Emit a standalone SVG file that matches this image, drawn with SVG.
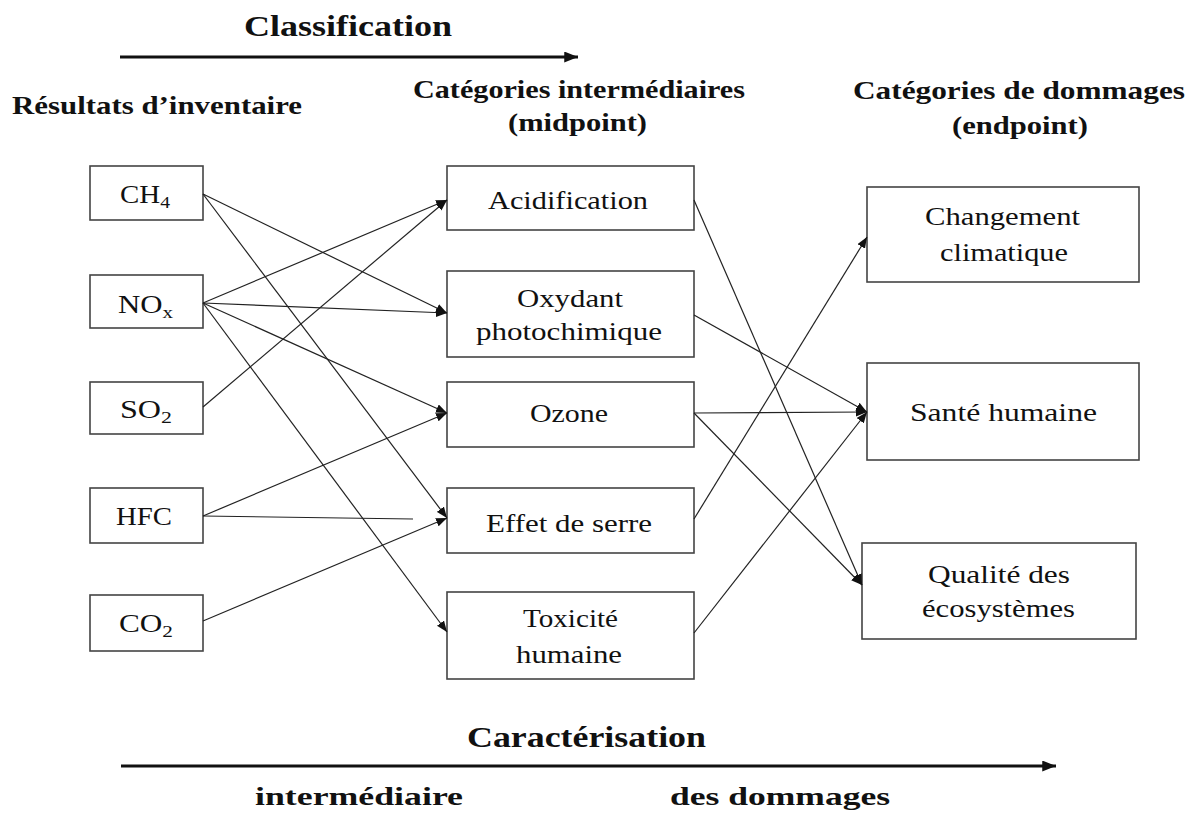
<svg xmlns="http://www.w3.org/2000/svg" width="1195" height="814" viewBox="0 0 1195 814">
<style>
.box{fill:#fff;stroke:#444;stroke-width:1.6}
.lbl{font-family:"Liberation Serif","Times New Roman",serif;font-size:25px;fill:#111}
.hdr{font-family:"Liberation Serif","Times New Roman",serif;font-weight:bold;font-size:26px;fill:#111}
.big{font-family:"Liberation Serif","Times New Roman",serif;font-weight:bold;font-size:30px;fill:#111}
.sub{font-size:17px}
.con{fill:none;stroke:#222;stroke-width:1.2}
.main{fill:none;stroke:#111;stroke-width:3}
</style>
<defs>
<marker id="ah" viewBox="0 0 10 8" refX="10" refY="4" markerWidth="11" markerHeight="9" markerUnits="userSpaceOnUse" orient="auto"><path d="M0,0 L10,4 L0,8 z" fill="#111"/></marker>
<marker id="bh" viewBox="0 0 10 8" refX="10" refY="4" markerWidth="14" markerHeight="11" markerUnits="userSpaceOnUse" orient="auto"><path d="M0,0 L10,4 L0,8 z" fill="#111"/></marker>
</defs>

<g id="headers">
<text class="big" x="244" y="36" textLength="208" lengthAdjust="spacingAndGlyphs">Classification</text>
<line class="main" x1="120" y1="57" x2="578" y2="57" marker-end="url(#bh)"/>
<text class="hdr" x="12" y="114" textLength="290" lengthAdjust="spacingAndGlyphs">Résultats d’inventaire</text>
<text class="hdr" x="413" y="98" textLength="332" lengthAdjust="spacingAndGlyphs">Catégories intermédiaires</text>
<text class="hdr" x="508" y="131" textLength="139" lengthAdjust="spacingAndGlyphs">(midpoint)</text>
<text class="hdr" x="853" y="99" textLength="332" lengthAdjust="spacingAndGlyphs">Catégories de dommages</text>
<text class="hdr" x="952" y="134" textLength="136" lengthAdjust="spacingAndGlyphs">(endpoint)</text>
<text class="big" x="467" y="747" textLength="239" lengthAdjust="spacingAndGlyphs">Caractérisation</text>
<line class="main" x1="121" y1="766" x2="1056" y2="766" stroke-width="2.6" marker-end="url(#bh)"/>
<text class="hdr" x="255" y="805" font-size="27" textLength="208" lengthAdjust="spacingAndGlyphs">intermédiaire</text>
<text class="hdr" x="670" y="805" font-size="27" textLength="220" lengthAdjust="spacingAndGlyphs">des dommages</text>
</g>

<g id="n-ch4"><rect class="box" x="90" y="166" width="113" height="54"/><text class="lbl" x="120" y="203" textLength="50" lengthAdjust="spacingAndGlyphs">CH<tspan class="sub" dy="5">4</tspan></text></g>
<g id="n-nox"><rect class="box" x="90" y="275" width="113" height="53"/><text class="lbl" x="118" y="313" textLength="55" lengthAdjust="spacingAndGlyphs">NO<tspan class="sub" dy="5">x</tspan></text></g>
<g id="n-so2"><rect class="box" x="90" y="382" width="113" height="52"/><text class="lbl" x="120" y="418" textLength="52" lengthAdjust="spacingAndGlyphs">SO<tspan class="sub" dy="5">2</tspan></text></g>
<g id="n-hfc"><rect class="box" x="90" y="488" width="113" height="55"/><text class="lbl" x="116" y="525" textLength="56" lengthAdjust="spacingAndGlyphs">HFC</text></g>
<g id="n-co2"><rect class="box" x="90" y="595" width="113" height="56"/><text class="lbl" x="119" y="632" textLength="54" lengthAdjust="spacingAndGlyphs">CO<tspan class="sub" dy="5">2</tspan></text></g>

<g id="m-acid"><rect class="box" x="447" y="166" width="247" height="64"/><text class="lbl" x="488" y="209" textLength="160" lengthAdjust="spacingAndGlyphs">Acidification</text></g>
<g id="m-oxyd"><rect class="box" x="447" y="271" width="247" height="86"/><text class="lbl" x="517" y="307" textLength="106" lengthAdjust="spacingAndGlyphs">Oxydant</text><text class="lbl" x="476" y="340" textLength="186" lengthAdjust="spacingAndGlyphs">photochimique</text></g>
<g id="m-ozone"><rect class="box" x="447" y="382" width="247" height="65"/><text class="lbl" x="530" y="422" textLength="78" lengthAdjust="spacingAndGlyphs">Ozone</text></g>
<g id="m-effet"><rect class="box" x="447" y="488" width="247" height="65"/><text class="lbl" x="486" y="532" textLength="166" lengthAdjust="spacingAndGlyphs">Effet de serre</text></g>
<g id="m-toxi"><rect class="box" x="447" y="592" width="247" height="87"/><text class="lbl" x="523" y="627" textLength="95" lengthAdjust="spacingAndGlyphs">Toxicité</text><text class="lbl" x="516" y="663" textLength="106" lengthAdjust="spacingAndGlyphs">humaine</text></g>

<g id="e-clim"><rect class="box" x="867" y="187" width="272" height="95"/><text class="lbl" x="925" y="225" textLength="155" lengthAdjust="spacingAndGlyphs">Changement</text><text class="lbl" x="940" y="261" textLength="128" lengthAdjust="spacingAndGlyphs">climatique</text></g>
<g id="e-sante"><rect class="box" x="867" y="363" width="272" height="97"/><text class="lbl" x="910" y="421" textLength="187" lengthAdjust="spacingAndGlyphs">Santé humaine</text></g>
<g id="e-qual"><rect class="box" x="862" y="543" width="274" height="96"/><text class="lbl" x="928" y="583" textLength="142" lengthAdjust="spacingAndGlyphs">Qualité des</text><text class="lbl" x="922" y="617" textLength="153" lengthAdjust="spacingAndGlyphs">écosystèmes</text></g>

<g id="connectors">
<line class="con" x1="203" y1="194" x2="447" y2="313" marker-end="url(#ah)"/>
<line class="con" x1="203" y1="194" x2="447" y2="518" marker-end="url(#ah)"/>
<line class="con" x1="203" y1="303" x2="447" y2="200" marker-end="url(#ah)"/>
<line class="con" x1="203" y1="303" x2="447" y2="313" marker-end="url(#ah)"/>
<line class="con" x1="203" y1="303" x2="447" y2="413" marker-end="url(#ah)"/>
<line class="con" x1="203" y1="303" x2="447" y2="632" marker-end="url(#ah)"/>
<line class="con" x1="203" y1="407" x2="447" y2="200" marker-end="url(#ah)"/>
<line class="con" x1="203" y1="516" x2="447" y2="413" marker-end="url(#ah)"/>
<line class="con" x1="203" y1="516" x2="413" y2="519"/>
<line class="con" x1="203" y1="621" x2="447" y2="518" marker-end="url(#ah)"/>
<line class="con" x1="694" y1="200" x2="862" y2="585" marker-end="url(#ah)"/>
<line class="con" x1="694" y1="315" x2="867" y2="412" marker-end="url(#ah)"/>
<line class="con" x1="694" y1="413" x2="867" y2="412" marker-end="url(#ah)"/>
<line class="con" x1="694" y1="413" x2="862" y2="585" marker-end="url(#ah)"/>
<line class="con" x1="694" y1="519" x2="867" y2="237" marker-end="url(#ah)"/>
<line class="con" x1="694" y1="633" x2="867" y2="412" marker-end="url(#ah)"/>
</g>
</svg>
